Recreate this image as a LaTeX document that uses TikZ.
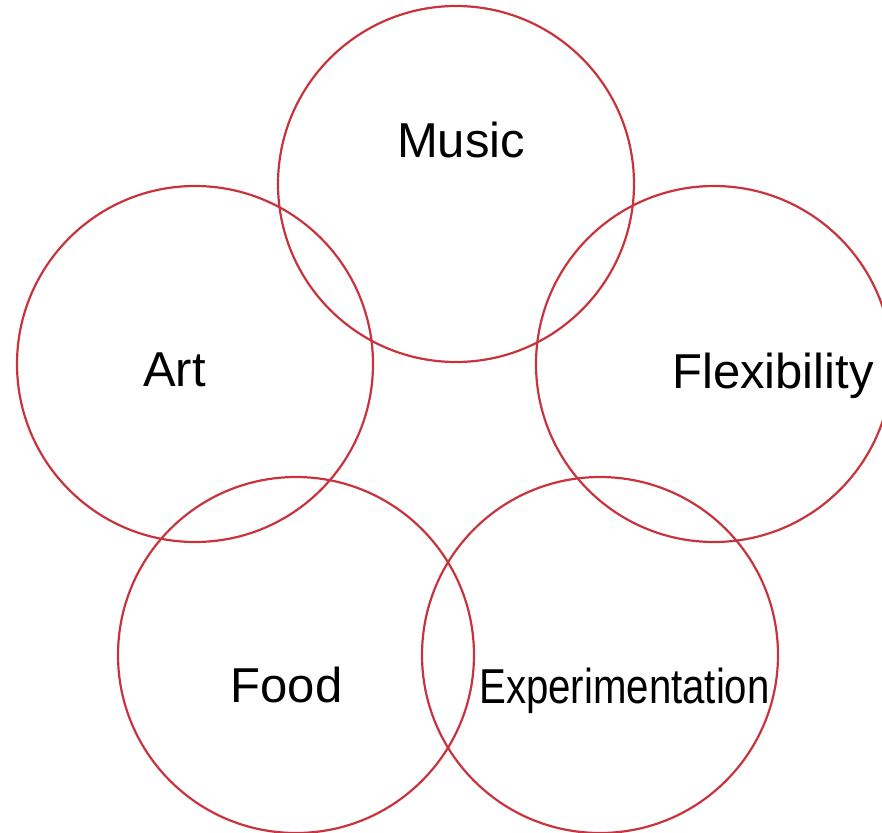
\documentclass[tikz,border=0pt]{standalone}
\usepackage{fontspec}
\setmainfont{Liberation Sans}
\definecolor{ringred}{RGB}{200,52,62}
\tikzset{
  ring/.style={draw=ringred, line width=2.2pt, circle, minimum size=356pt, inner sep=0pt},
  lbl/.style={anchor=base, inner sep=0pt, font=\fontsize{49}{58}\selectfont, text=black}
}
\begin{document}
\begin{tikzpicture}[x=1pt,y=-1pt]
\useasboundingbox (0,0) rectangle (882,832);
\clip (0,0) rectangle (882,832);
\node[ring] (cmusic) at (456,184) {};
\node[ring] (cart) at (195,364) {};
\node[ring] (cflex) at (714,364) {};
\node[ring] (cfood) at (296,655) {};
\node[ring] (cexp) at (600,655) {};
\node[lbl] (tmusic) at (461,157) {Music};
\node[lbl] (tart) at (174.5,386) {Art};
\node[lbl] (tflex) at (773,388) {Flexibility};
\node[lbl] (tfood) at (286.5,702) {Food};
\node[lbl] (texp) at (624.5,703) {\scalebox{0.82}[1]{Experimentation}};
\end{tikzpicture}
\end{document}
